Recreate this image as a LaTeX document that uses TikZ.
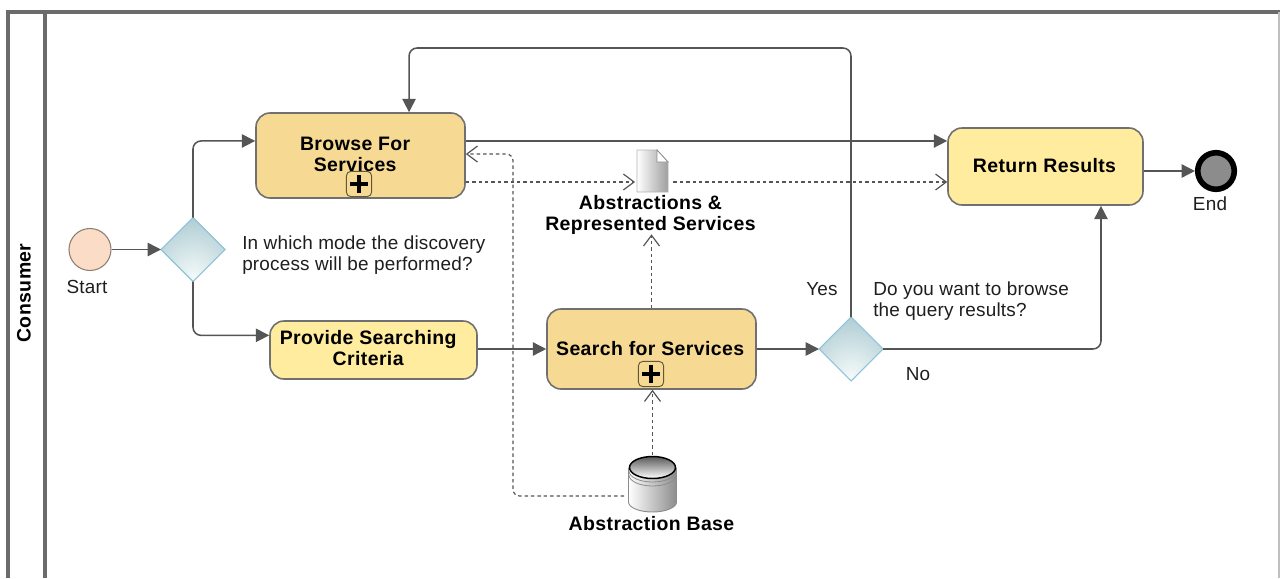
\documentclass[tikz,border=0pt]{standalone}
\usepackage{fontspec}
\setmainfont{Liberation Sans}[LetterSpace=1,BoldFeatures={LetterSpace=2}]
\usetikzlibrary{arrows.meta,shapes.geometric}
\definecolor{flowc}{HTML}{555555}
\definecolor{txtc}{HTML}{1E1E1E}
\definecolor{taskdark}{HTML}{F6DA94}
\definecolor{tasklight}{HTML}{FFEC9E}
\definecolor{taskedge}{HTML}{707070}
\definecolor{gwouter}{HTML}{B4D0D6}
\definecolor{gwmid}{HTML}{DCEAEC}
\definecolor{gwinner}{HTML}{F4F9F9}
\definecolor{gwedge}{HTML}{8FC3D8}
\definecolor{startfill}{HTML}{FBDCC6}
\definecolor{startedge}{HTML}{8C7F73}
\pgfdeclareradialshading{gwshade}{\pgfpoint{0bp}{-22bp}}{
  color(0bp)=(gwinner);
  color(14bp)=(gwmid);
  color(36bp)=(gwouter);
  color(100bp)=(gwouter)}
\tikzset{
  taskbox/.style={draw=taskedge,line width=1.2pt,rounded corners=10.5pt,inner sep=0pt,align=center,font=\fontsize{14.6}{15.75}\selectfont\bfseries,text=black},
  gateway/.style={diamond,shape aspect=1,draw=gwedge,line width=.8pt,shading=gwshade,minimum width=48pt,minimum height=48pt,inner sep=0pt,outer sep=0pt},
  plain/.style={font=\fontsize{14.2}{15.75}\selectfont,text=txtc,inner sep=0pt,align=left},
  boldtxt/.style={font=\fontsize{14.6}{15.75}\selectfont\bfseries,text=black,inner sep=0pt,align=center},
  flow/.style={draw=flowc,line width=1.15pt,rounded corners=6pt,-{Triangle[length=10pt,width=10pt]}},
  assoc/.style={draw=flowc,line width=.9pt,dash pattern=on 2.6pt off 2.2pt,rounded corners=5pt,-{Straight Barb[length=8pt,width=12pt,line width=.9pt]}},
  anchorbox/.style={inner sep=0pt,outer sep=0pt},
  poolline/.style={draw=black!58,line width=2.6pt},
  marker/.style={draw=black!60!taskdark,line width=.7pt,rounded corners=3.5pt,fill=taskdark,inner sep=0pt,minimum width=19pt,minimum height=19pt},
  plusbar/.style={draw=black,line width=2.4pt}
}
\begin{document}
\begin{tikzpicture}[x=.75pt,y=-.75pt]
\useasboundingbox (0,0) rectangle (1280,578);
% pool
\draw[poolline] (8,578) -- (8,12) -- (1280,12);
\draw[poolline] (45,12) -- (45,578);
\draw[draw=black!25,line width=.8pt] (1279,12) -- (1279,578);
\node[boldtxt,rotate=90] (pool) at (24,293) {Consumer};
% events
\node[circle,draw=startedge,fill=startfill,line width=.8pt,minimum size=31.5pt,inner sep=0pt] (start) at (90,249.5) {};
\node[plain] (startl) at (87,287) {Start};
\node[circle,draw=black,fill=black!45,line width=4.2pt,minimum size=27.4pt,inner sep=0pt] (end) at (1216,171) {};
\node[plain] (endl) at (1210,204) {End};
% gateways
\node[gateway] (gw1) at (193,249.5) {};
\node[gateway] (gw2) at (851,349) {};
% tasks
\node[taskbox,fill=taskdark,minimum width=156.75pt,minimum height=63.75pt] (browse) at (360.5,155.5) {Browse For\rule{8pt}{0pt}\\Services\rule[-2.2pt]{8pt}{0pt}};
\node[taskbox,fill=tasklight,minimum width=146.25pt,minimum height=57.75pt] (return) at (1045.5,166.5) {Return Results\rule[-1pt]{1.5pt}{0pt}};
\node[taskbox,fill=tasklight,minimum width=155.25pt,minimum height=43.5pt] (provide) at (373.5,350) {Provide Searching\rule{8pt}{0pt}\\Criteria\rule[-2.5pt]{8pt}{0pt}};
\node[taskbox,fill=taskdark,minimum width=156.75pt,minimum height=60pt] (search) at (651.5,349) {Search for Services\rule{2pt}{0pt}};
% markers
\node[marker] (m1) at (359,184) {};
\draw[plusbar] (m1.center) ++(-6.8pt,0) -- ++(13.6pt,0) (m1.center) ++(0,-6.8pt) -- ++(0,13.6pt);
\node[marker] (m2) at (651,374) {};
\draw[plusbar] (m2.center) ++(-6.8pt,0) -- ++(13.6pt,0) (m2.center) ++(0,-6.8pt) -- ++(0,13.6pt);
% document
\node[anchorbox,minimum width=23.25pt,minimum height=31.5pt] (doc) at (652.5,171) {};
\shade[left color=white,right color=black!38,draw=black!30,line width=.6pt] (637,150) -- (657,150) -- (668,162) -- (668,192) -- (637,192) -- cycle;
\draw[fill=white,draw=black!45,line width=.6pt] (657,150) -- (668,162) -- (657,162) -- cycle;
\node[boldtxt] (docl) at (650.5,214.5) {Abstractions \&\\Represented Services};
% data store
\node[anchorbox,minimum width=36.75pt,minimum height=42.75pt] (db) at (652.5,483.5) {};
\shade[left color=white,right color=black!45,draw=black!45,line width=.7pt] (628.5,468) -- (628.5,502) arc[start angle=180,end angle=0,x radius=24,y radius=10] -- (676.5,468) -- cycle;
\shade[top color=black!65,bottom color=white,draw=black,line width=1.1pt] (652.5,467.5) ellipse[x radius=23,y radius=11];
\draw[black!45,line width=.6pt] (629,471) arc[start angle=180,end angle=0,x radius=23.5,y radius=11];
\draw[black!45,line width=.6pt] (629,475) arc[start angle=180,end angle=0,x radius=23.5,y radius=11];
\node[boldtxt] (dbl) at (651.5,523.5) {Abstraction Base};
% annotations
\node[plain,anchor=west] (q1) at (242,255.5) {In which mode the discovery\\process will be performed?};
\node[plain,anchor=west] (q2) at (873,301.5) {Do you want to browse\\the query results?};
\node[plain] (yes) at (822,289) {Yes};
\node[plain] (no) at (918,374) {No};
% waypoints
\coordinate (loop) at (851,48);
\coordinate (dbturn) at (513,496);
% sequence flows
\draw[flow] (start.east) -- (gw1.west);
\draw[flow] (gw1.north) |- ([yshift=10.9pt]browse.west);
\draw[flow] (gw1.south) |- ([yshift=11pt]provide.west);
\draw[flow] ([yshift=.75pt]provide.east) -- (search.west);
\draw[flow] (search.east) -- (gw2.west);
\draw[flow] (gw2.north) -- (loop) -| ([xshift=36.4pt]browse.north);
\draw[flow] ([yshift=10.9pt]browse.east) -- ([yshift=19.15pt]return.west);
\draw[flow] (gw2.east) -| ([xshift=41.6pt]return.south);
\draw[flow] ([yshift=-3.375pt]return.east) -- (end.west);
% associations
\draw[assoc] ([yshift=-19.875pt]browse.east) -- ([xshift=-1.5pt,yshift=-8.25pt]doc.west);
\draw[assoc] ([xshift=4pt,yshift=-8.25pt]doc.east) -- ([yshift=-11.625pt]return.west);
\draw[assoc] (search.north) -- (search.north |- docl.south);
\draw[assoc] (db.north) -- (db.north |- search.south);
\draw[assoc] ([xshift=-3pt,yshift=-9.4pt]db.west) -- (dbturn) |- ([yshift=1.1pt]browse.east);
\end{tikzpicture}
\end{document}
